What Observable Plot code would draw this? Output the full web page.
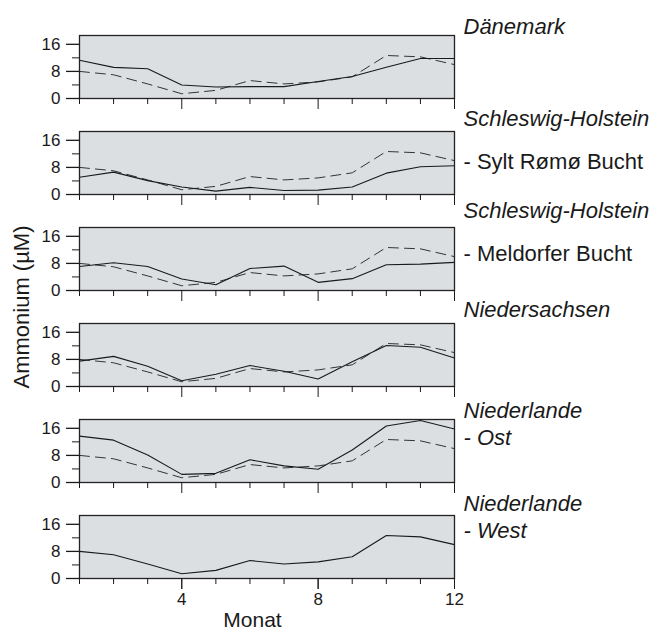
<!DOCTYPE html>
<html>
<head>
<meta charset="utf-8">
<script src="https://cdn.jsdelivr.net/npm/d3@7"></script>
<script src="https://cdn.jsdelivr.net/npm/@observablehq/plot@0.6"></script>
<style>
  html, body { margin: 0; padding: 0; background: #fff; }
  #chart { width: 660px; height: 633px; }
</style>
</head>
<body>
<div id="chart"></div>
<script>
// ---- data ----
const months = [1, 2, 3, 4, 5, 6, 7, 8, 9, 10, 11, 12];
const panels = ["Dänemark", "Sylt Rømø Bucht", "Meldorfer Bucht", "Niedersachsen", "Niederlande Ost", "Niederlande West"];

// reference (Niederlande - West), drawn dashed in the other panels
const niederlandeWest = [8.0, 7.0, 4.3, 1.4, 2.4, 5.3, 4.3, 4.9, 6.4, 12.7, 12.3, 10.0];
const daenemark       = [11.3, 9.2, 8.8, 4.0, 3.4, 3.5, 3.5, 5.0, 6.5, 9.2, 11.8, 11.8];
const syltRomo        = [5.1, 6.6, 4.1, 2.2, 1.0, 2.1, 1.2, 1.3, 2.2, 6.3, 8.2, 8.5];
const meldorf         = [7.1, 8.2, 7.1, 3.4, 1.7, 6.5, 7.2, 2.4, 3.5, 7.6, 7.8, 8.3];
const niedersachsen   = [7.5, 8.9, 6.0, 1.7, 3.6, 6.2, 4.5, 2.2, 7.3, 12.1, 11.6, 8.4];
const niederlandeOst  = [13.7, 12.5, 8.1, 2.4, 2.7, 6.7, 4.9, 3.9, 9.6, 16.7, 18.3, 15.8];

const yTicksMajor = [0, 8, 16];
const yTicksMinor = [4, 12];
const xTicksMajor = [4, 8, 12];
const xTicksMinor = [1, 2, 3, 5, 6, 7, 9, 10, 11];

const titles = ["Dänemark", "Schleswig-Holstein", "Schleswig-Holstein", "Niedersachsen", "Niederlande", "Niederlande"];
const subtitles = ["", "- Sylt Rømø Bucht", "- Meldorfer Bucht", "", "- Ost", "- West"];
const yLabel = "Ammonium (µM)";
const xLabel = "Monat";

// ---- build table ----
const solidSeries = [daenemark, syltRomo, meldorf, niedersachsen, niederlandeOst, niederlandeWest];
const solidRows = [];
const dashedRows = [];
panels.forEach((p, i) => {
  months.forEach((m, j) => {
    solidRows.push({panel: p, month: m, value: solidSeries[i][j]});
    if (i < panels.length - 1) dashedRows.push({panel: p, month: m, value: niederlandeWest[j]});
  });
});

// label layout (vertical offsets relative to each panel's top)
const titleDy = [-1.5, -6, -9.5, -6.5, -1.5, -5];
const subDy = [0, 37, 33.5, 0, 25, 22];
const subItalic = [false, false, false, false, true, true];

const font = "'Liberation Sans', Arial, Helvetica, sans-serif";
const ink = "#1a1a1a";

const labelMarks = [];
panels.forEach((p, i) => {
  labelMarks.push(Plot.text([{panel: p, t: titles[i]}], {
    fy: "panel", text: "t", frameAnchor: "top-right", textAnchor: "start",
    lineAnchor: "bottom", dx: 9, dy: titleDy[i], fontSize: 22, fontStyle: "italic", fill: ink
  }));
  if (subtitles[i]) {
    labelMarks.push(Plot.text([{panel: p, t: subtitles[i]}], {
      fy: "panel", text: "t", frameAnchor: "top-right", textAnchor: "start",
      lineAnchor: "bottom", dx: 9, dy: subDy[i], fontSize: 22,
      fontStyle: subItalic[i] ? "italic" : "normal", fill: ink
    }));
  }
});

const chart = Plot.plot({
  width: 660,
  height: 633,
  marginLeft: 79,
  marginRight: 206,
  marginTop: 33,
  marginBottom: 53,
  style: {fontFamily: font, background: "white", color: ink},
  x: {domain: [1, 12]},
  y: {domain: [0, 18.6]},
  fy: {domain: panels, axis: null, paddingInner: 0.341, paddingOuter: 0},
  marks: [
    Plot.frame({fill: "#dcdfe2", stroke: "none"}),
    Plot.line(dashedRows, {x: "month", y: "value", fy: "panel", stroke: "#333", strokeWidth: 1, strokeDasharray: "10,6"}),
    Plot.line(solidRows, {x: "month", y: "value", fy: "panel", stroke: ink, strokeWidth: 1.1}),
    Plot.frame({stroke: "#222", strokeWidth: 1.3}),
    Plot.axisY({ticks: yTicksMajor, tickSize: 13, tickPadding: 6, fontSize: 17, label: null, stroke: ink, strokeWidth: 1.3}),
    Plot.axisY({ticks: yTicksMinor, tickSize: 7, tickFormat: () => "", label: null, stroke: ink}),
    Plot.axisX({ticks: xTicksMinor, tickSize: 6, tickFormat: () => "", label: null, facetAnchor: null, stroke: ink}),
    Plot.axisX({ticks: xTicksMajor, tickSize: 11, tickFormat: () => "", label: null, facetAnchor: null, stroke: ink}),
    Plot.axisX({ticks: xTicksMajor, tickSize: 11, tickPadding: 3, fontSize: 17, label: null, stroke: ink}),
    ...labelMarks,
    Plot.text([{panel: panels[2], t: yLabel}], {
      fy: "panel", text: "t", frameAnchor: "bottom-left", dx: -58, dy: 16.5,
      rotate: -90, textAnchor: "middle", lineAnchor: "middle", fontSize: 22, fill: ink
    }),
    Plot.text([{panel: panels[5], t: xLabel}], {
      fy: "panel", text: "t", frameAnchor: "bottom", dx: -14.5, dy: 48,
      lineAnchor: "bottom", fontSize: 21, fill: ink
    })
  ]
});
document.getElementById("chart").appendChild(chart);
</script>
</body>
</html>
